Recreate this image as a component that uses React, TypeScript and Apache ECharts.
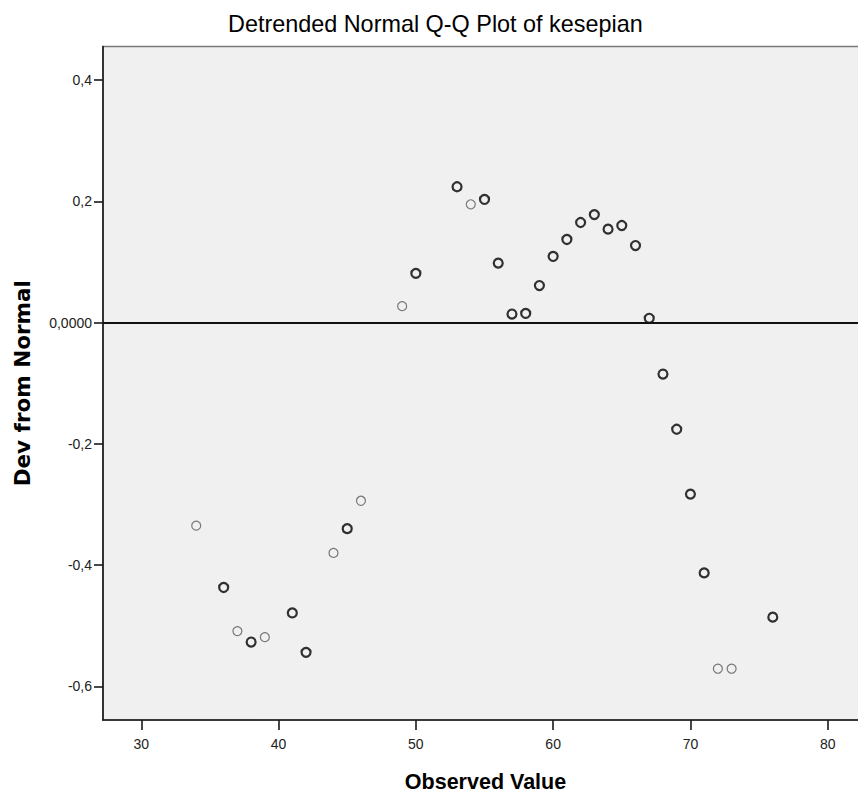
import React, { useEffect, useRef } from "react";
import * as echarts from "echarts";

const observedValues = [34, 36, 37, 38, 39, 41, 42, 44, 45, 46, 49, 50, 53, 54, 55, 56, 57, 58, 59, 60, 61, 62, 63, 64, 65, 66, 67, 68, 69, 70, 71, 72, 73, 76];
const deviations = [-0.335, -0.437, -0.509, -0.527, -0.519, -0.479, -0.544, -0.38, -0.34, -0.294, 0.027, 0.081, 0.224, 0.195, 0.203, 0.098, 0.014, 0.015, 0.061, 0.109, 0.137, 0.165, 0.178, 0.154, 0.16, 0.127, 0.007, -0.085, -0.176, -0.283, -0.413, -0.571, -0.571, -0.486];
const caseCounts = [1, 2, 1, 2, 1, 2, 2, 1, 2, 1, 1, 2, 2, 1, 2, 2, 2, 2, 2, 2, 2, 2, 2, 2, 2, 2, 2, 2, 2, 2, 2, 1, 1, 2];
const xTickValues = [30, 40, 50, 60, 70, 80];
const yTickValues = [-0.6, -0.4, -0.2, 0, 0.2, 0.4];
const referenceLevel = 0;

const chartTitle = "Detrended Normal Q-Q Plot of kesepian";
const xAxisTitle = "Observed Value";
const yAxisTitle = "Dev from Normal";

const FONT = "'Liberation Sans', Arial, sans-serif";

export default function App() {
  const ref = useRef<HTMLDivElement>(null);

  useEffect(() => {
    if (!ref.current) return;
    const chart = echarts.init(ref.current, undefined, { renderer: "svg" });

    const thinStyle = { color: "transparent", borderColor: "#5a5a5a", borderWidth: 1.2 };
    const darkStyle = { color: "transparent", borderColor: "#000000", borderWidth: 2.2 };

    const points = observedValues.map((x, i) => ({
      value: [x, deviations[i]],
      itemStyle: caseCounts[i] > 1 ? darkStyle : thinStyle,
    }));

    chart.setOption({
      animation: false,
      backgroundColor: "#ffffff",
      textStyle: { fontFamily: FONT },
      title: {
        text: chartTitle,
        left: 228,
        top: 12.7,
        padding: 0,
        textStyle: { fontFamily: FONT, fontSize: 23.4, fontWeight: "normal", color: "#000" },
      },
      grid: {
        left: 103,
        top: 46.5,
        width: 765,
        height: 673.5,
        show: true,
        backgroundColor: "#f0f0f0",
        borderColor: "#7a7a7a",
        borderWidth: 1.5,
        containLabel: false,
        outerBoundsMode: "none",
      },
      xAxis: {
        type: "value",
        min: 27.21,
        max: 82.935,
        name: xAxisTitle,
        nameLocation: "middle",
        nameGap: 51,
        nameTextStyle: { fontFamily: FONT, fontSize: 21.5, fontWeight: "bold", color: "#000" },
        axisLine: { show: true, onZero: false, lineStyle: { color: "#1a1a1a", width: 1.6 } },
        axisTick: { show: true, length: 10, customValues: xTickValues, lineStyle: { color: "#1a1a1a", width: 1.6 } },
        axisLabel: {
          customValues: xTickValues,
          margin: 17,
          fontFamily: FONT,
          fontSize: 14,
          color: "#222",
        },
        splitLine: { show: false },
      },
      yAxis: {
        type: "value",
        min: -0.6556,
        max: 0.4553,
        name: yAxisTitle,
        nameLocation: "middle",
        nameGap: 70,
        nameRotate: 90,
        nameTextStyle: { fontFamily: "'DejaVu Sans', sans-serif", fontSize: 21.5, fontWeight: "bold", color: "#000" },
        axisLine: { show: true, onZero: false, lineStyle: { color: "#1a1a1a", width: 1.6 } },
        axisTick: { show: true, length: 9, customValues: yTickValues, lineStyle: { color: "#1a1a1a", width: 1.6 } },
        axisLabel: {
          customValues: yTickValues,
          margin: 11,
          fontFamily: FONT,
          fontSize: 14,
          color: "#222",
          formatter: (v: number) => (Math.abs(v) < 1e-9 ? "0,0000" : v.toFixed(1).replace(".", ",")),
        },
        splitLine: { show: false },
      },
      series: [
        {
          type: "scatter",
          symbol: "circle",
          symbolSize: 9,
          data: points,
          z: 3,
          markLine: {
            silent: true,
            symbol: ["none", "none"],
            label: { show: false },
            lineStyle: { color: "#111", width: 2, type: "solid" },
            data: [{ yAxis: referenceLevel }],
          },
        },
      ],
    });

    return () => chart.dispose();
  }, []);

  return (
    <div
      ref={ref}
      style={{ position: "absolute", left: 0, top: 0, width: 858, height: 799 }}
    />
  );
}
